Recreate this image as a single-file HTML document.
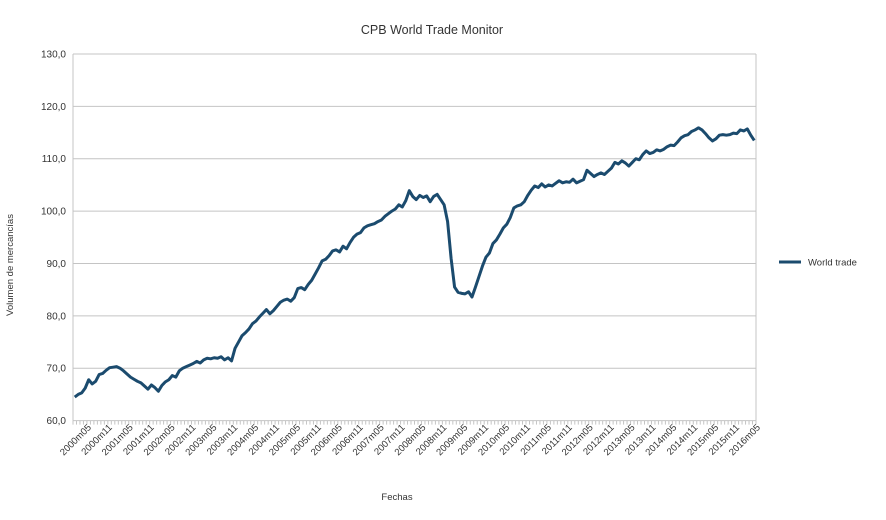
<!DOCTYPE html>
<html><head><meta charset="utf-8"><style>
body{margin:0;background:#fff;}
svg text{font-family:"Liberation Sans",sans-serif;fill:#333;}
</style></head><body>
<svg id="chart" width="886" height="515" viewBox="0 0 886 515" xmlns="http://www.w3.org/2000/svg">
<rect width="886" height="515" fill="#fff"/>
<text x="432" y="34" text-anchor="middle" font-size="12.5">CPB World Trade Monitor</text>
<text transform="translate(13,265) rotate(-90)" text-anchor="middle" font-size="9.5">Volumen de mercancías</text>
<text x="397" y="500" text-anchor="middle" font-size="9.5">Fechas</text>
<g id="grid"></g><g id="xaxis"></g><g id="series"></g>
<g>
<line x1="779" y1="262" x2="801" y2="262" stroke="#1b4b6e" stroke-width="3"/>
<text x="808" y="265.5" font-size="9.5">World trade</text>
</g>
</svg>
<script>
const yTicks = [60,70,80,90,100,110,120,130];
const yTickLabels = ["60,0","70,0","80,0","90,0","100,0","110,0","120,0","130,0"];
const startYear = 2000, startMonth = 5;
const worldTrade = [
64.5,65.0,65.3,66.2,67.8,67.0,67.5,68.8,69.0,69.6,70.1,70.2,
70.3,70.0,69.5,68.9,68.3,67.9,67.5,67.2,66.6,66.0,66.8,66.3,
65.6,66.7,67.4,67.8,68.6,68.3,69.5,70.0,70.3,70.6,70.9,71.3,
71.0,71.6,71.9,71.8,72.0,71.9,72.2,71.6,72.0,71.4,73.8,75.0,
76.2,76.8,77.5,78.5,79.0,79.8,80.5,81.2,80.4,81.0,81.8,82.6,
83.0,83.2,82.8,83.5,85.2,85.4,85.0,86.0,86.8,88.0,89.2,90.5,
90.8,91.5,92.4,92.6,92.2,93.3,92.8,94.0,95.0,95.6,95.9,96.8,
97.2,97.4,97.6,98.0,98.3,99.0,99.5,100.0,100.4,101.2,100.8,102.0,
103.9,102.8,102.2,103.0,102.6,102.9,101.8,102.8,103.2,102.2,101.2,98.0,
91.0,85.5,84.5,84.3,84.2,84.6,83.6,85.5,87.5,89.5,91.2,92.0,
93.8,94.5,95.6,96.8,97.5,98.8,100.6,101.0,101.2,101.8,103.0,104.0,
104.8,104.5,105.2,104.6,105.0,104.8,105.3,105.8,105.4,105.6,105.5,106.1,
105.4,105.7,106.0,107.8,107.2,106.6,107.0,107.3,107.0,107.6,108.2,109.3,
109.0,109.6,109.2,108.6,109.3,110.0,109.8,110.8,111.5,111.0,111.2,111.7,
111.5,111.8,112.3,112.6,112.5,113.2,114.0,114.4,114.6,115.2,115.5,115.9,
115.5,114.8,114.0,113.4,113.8,114.5,114.6,114.5,114.6,114.9,114.8,115.5,
115.3,115.7,114.5,113.5];
const categories = worldTrade.map((v,i)=>{const m=startMonth-1+i;const y=startYear+Math.floor(m/12);const mm=(m%12)+1;return y+"m"+(mm<10?"0"+mm:mm);});

const NS="http://www.w3.org/2000/svg";
const L=73,R=756,T=54,B=420.6,yMin=60,yMax=130;
const n=worldTrade.length, step=(R-L)/n;
const xS=i=>L+(i+0.5)*step;
const yS=v=>B-(v-yMin)/(yMax-yMin)*(B-T);
function mk(tag,attrs,parent){const e=document.createElementNS(NS,tag);for(const k in attrs)e.setAttribute(k,attrs[k]);parent.appendChild(e);return e;}
const grid=document.getElementById('grid');
yTicks.forEach((t,k)=>{
  const gl=mk('line',{x1:L,x2:R,y1:yS(t),y2:yS(t),stroke:'#c4c4c4','stroke-width':1},grid);
  
  
  const tx=mk('text',{x:L-7,y:yS(t)+3.5,'text-anchor':'end','font-size':10},grid);
  tx.textContent=yTickLabels[k];
  
  
});
const la=mk('line',{x1:L,x2:L,y1:T,y2:B,stroke:'#c4c4c4','stroke-width':1},grid);


const ra=mk('line',{x1:R,x2:R,y1:T,y2:B,stroke:'#c4c4c4','stroke-width':1},grid);


const xa=document.getElementById('xaxis');
for(let i=0;i<=n;i++){
  const tk=mk('line',{x1:L+i*step,x2:L+i*step,y1:B,y2:B+4,stroke:'#c4c4c4','stroke-width':1},xa);
  
  
}
categories.forEach((c,i)=>{
  if(i%6!==0)return;
  const x=xS(i)+17,y=428;
  const t=mk('text',{x:x,y:y,'text-anchor':'end','font-size':9.5,transform:'rotate(-45 '+x+' '+y+')'},xa);
  t.textContent=c;
  
  
});
const d=worldTrade.map((v,i)=>(i?'L':'M')+xS(i).toFixed(2)+' '+yS(v).toFixed(2)).join(' ');
const p=mk('path',{d:d,fill:'none',stroke:'#1b4b6e','stroke-width':3,'stroke-linejoin':'round'},document.getElementById('series'));


</script>
</body></html>
